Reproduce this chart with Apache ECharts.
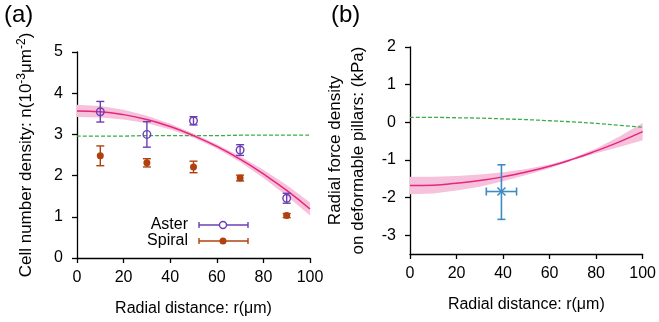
<!DOCTYPE html>
<html><head><meta charset="utf-8">
<script src="https://cdn.jsdelivr.net/npm/echarts@6/dist/echarts.min.js"></script>
<style>html,body{margin:0;padding:0;background:#fff}#c{width:659px;height:322px}</style>
</head><body><div id="c"></div>
<script>
// ---- Panel (a) data ----
const radii = [10, 30, 50, 70, 90];
const asterMean = [3.55, 3.00, 3.33, 2.62, 1.45];
const asterErr = [0.25, 0.31, 0.10, 0.13, 0.12];
const spiralMean = [2.48, 2.31, 2.21, 1.94, 1.03];
const spiralErr = [0.24, 0.10, 0.14, 0.07, 0.05];
const fitR = [0, 10, 20, 30, 40, 50, 60, 70, 80, 90, 100];
const fitA = [3.57, 3.55, 3.48, 3.36, 3.19, 2.97, 2.71, 2.40, 2.04, 1.64, 1.19];
const fitAUpper = [3.72, 3.69, 3.60, 3.45, 3.26, 3.02, 2.76, 2.47, 2.14, 1.77, 1.35];
const fitALower = [3.42, 3.41, 3.36, 3.27, 3.12, 2.92, 2.66, 2.33, 1.94, 1.51, 1.03];
const flatA = [2.96, 2.96, 2.96, 2.97, 2.97, 2.97, 2.97, 2.98, 2.98, 2.98, 2.98];
// ---- Panel (b) data ----
const fitB = [-1.68, -1.67, -1.62, -1.55, -1.45, -1.32, -1.17, -0.98, -0.76, -0.52, -0.25];
const fitBUpper = [-1.45, -1.45, -1.43, -1.39, -1.33, -1.24, -1.12, -0.95, -0.70, -0.38, -0.02];
const fitBLower = [-1.91, -1.89, -1.81, -1.71, -1.57, -1.40, -1.22, -1.01, -0.82, -0.66, -0.48];
const flatB = [0.13, 0.13, 0.12, 0.11, 0.09, 0.07, 0.04, 0.01, -0.03, -0.08, -0.13];
const forceR = [39.3];
const forceRErr = [6.5];
const forceVal = [-1.84];
const forceErrUp = [0.71];
const forceErrDown = [0.74];
// ---- ticks ----
const xTicks = [0, 20, 40, 60, 80, 100];
const yTicksA = [0, 1, 2, 3, 4, 5];
const yTicksB = [-3, -2, -1, 0, 1, 2];

const FONT = "'Liberation Sans', Arial, Helvetica, sans-serif";
const C_ASTER = '#6a3fb6', C_SPIRAL = '#b0410f', C_FIT = '#e8247c', C_BAND = '#f6c2db', C_FLAT = '#3aad4a', C_FORCE = '#3f8bc5';

function errRender(color, hollow) {
  return function (params, api) {
    const x = api.value(0), y = api.value(1), e = api.value(2);
    const p = api.coord([x, y]), pt = api.coord([x, y + e]), pb = api.coord([x, y - e]);
    const cw = 4, lw = 1.4;
    return {
      type: 'group', children: [
        {type: 'line', shape: {x1: pt[0], y1: pt[1], x2: pb[0], y2: pb[1]}, style: {stroke: color, lineWidth: lw}},
        {type: 'line', shape: {x1: pt[0] - cw, y1: pt[1], x2: pt[0] + cw, y2: pt[1]}, style: {stroke: color, lineWidth: lw}},
        {type: 'line', shape: {x1: pb[0] - cw, y1: pb[1], x2: pb[0] + cw, y2: pb[1]}, style: {stroke: color, lineWidth: lw}},
        {type: 'circle', shape: {cx: p[0], cy: p[1], r: hollow ? 3.8 : 3.5},
          style: hollow ? {fill: 'none', stroke: color, lineWidth: lw} : {fill: color}}
      ]
    };
  };
}
function forceRender(params, api) {
  const x = api.value(0), y = api.value(1), ex = api.value(2), eu = api.value(3), ed = api.value(4);
  const p = api.coord([x, y]);
  const pt = api.coord([x, y + eu]), pb = api.coord([x, y - ed]);
  const pl = api.coord([x - ex, y]), pr = api.coord([x + ex, y]);
  const cw = 4, lw = 1.6, s = 4;
  const st = {stroke: C_FORCE, lineWidth: lw};
  return {type: 'group', children: [
    {type: 'line', shape: {x1: pt[0], y1: pt[1], x2: pb[0], y2: pb[1]}, style: st},
    {type: 'line', shape: {x1: pt[0] - cw, y1: pt[1], x2: pt[0] + cw, y2: pt[1]}, style: st},
    {type: 'line', shape: {x1: pb[0] - cw, y1: pb[1], x2: pb[0] + cw, y2: pb[1]}, style: st},
    {type: 'line', shape: {x1: pl[0], y1: pl[1], x2: pr[0], y2: pr[1]}, style: st},
    {type: 'line', shape: {x1: pl[0], y1: pl[1] - cw, x2: pl[0], y2: pl[1] + cw}, style: st},
    {type: 'line', shape: {x1: pr[0], y1: pr[1] - cw, x2: pr[0], y2: pr[1] + cw}, style: st},
    {type: 'line', shape: {x1: p[0] - s, y1: p[1] - s, x2: p[0] + s, y2: p[1] + s}, style: st},
    {type: 'line', shape: {x1: p[0] - s, y1: p[1] + s, x2: p[0] + s, y2: p[1] - s}, style: st}
  ]};
}
// confidence band: one polygon built from the band arrays through the axis scales
function bandRender(rs, lo, hi) {
  return function (params, api) {
    if (params.dataIndex !== 0) return null;
    const top = rs.map((r, i) => api.coord([r, hi[i]]));
    const bot = rs.map((r, i) => api.coord([r, lo[i]])).reverse();
    return {type: 'polygon', shape: {points: top.concat(bot)}, style: {fill: C_BAND}, silent: true};
  };
}

const axisLineStyle = {show: true, onZero: false, lineStyle: {color: '#000', width: 1.3}};
const axisTick = {show: true, inside: false, length: 5, lineStyle: {color: '#000', width: 1.3}};
const labelStyle = {color: '#000', fontSize: 16, fontFamily: FONT};
const nameStyle = {color: '#000', fontSize: 16, fontFamily: FONT};
const yNameStyle = {color: '#000', fontSize: 17, fontFamily: FONT};

function xAxisCfg(gi) {
  return {
    type: 'value', gridIndex: gi, min: 0, max: 100, interval: 20,
    axisLine: axisLineStyle, axisTick: axisTick, splitLine: {show: false},
    axisLabel: Object.assign({margin: 12}, labelStyle),
    name: 'Radial distance: r(μm)', nameLocation: 'middle', nameGap: 43, nameTextStyle: nameStyle
  };
}

const pairs = (xs, ys) => xs.map((x, i) => [x, ys[i]]);

const option = {
  animation: false,
  backgroundColor: '#fff',
  textStyle: {fontFamily: FONT},
  grid: [
    {left: 77, right: 349, top: 52, bottom: 63},
    {left: 410, right: 16, top: 47, bottom: 68}
  ],
  xAxis: [xAxisCfg(0), xAxisCfg(1)],
  yAxis: [
    {
      type: 'value', gridIndex: 0, min: 0, max: 5, interval: 1,
      axisLine: axisLineStyle, axisTick: axisTick, splitLine: {show: false},
      axisLabel: Object.assign({margin: 14}, labelStyle),
      name: 'Cell number density: n(10{s|-3}μm{s|-2})', nameLocation: 'middle', nameGap: 41,
      nameTextStyle: Object.assign({rich: {
        s: {fontSize: 12, fontFamily: FONT, color: '#000', verticalAlign: 'bottom', padding: [0, 0, 8, 0]}
      }}, yNameStyle)
    },
    {
      type: 'value', gridIndex: 1, min: -3.5, max: 2,
      axisLine: axisLineStyle,
      axisTick: Object.assign({customValues: yTicksB}, axisTick),
      splitLine: {show: false},
      axisLabel: Object.assign({margin: 14, customValues: yTicksB}, labelStyle),
      name: 'Radial force density\non deformable pillars: (kPa)', nameLocation: 'middle', nameGap: 40,
      nameTextStyle: Object.assign({lineHeight: 23}, yNameStyle)
    }
  ],
  series: [
    // panel (a)
    {type: 'custom', xAxisIndex: 0, yAxisIndex: 0, renderItem: bandRender(fitR, fitALower, fitAUpper),
      data: fitR.map((r, i) => [r, fitALower[i], fitAUpper[i]]), encode: {x: 0, y: [1, 2]}, z: 1, silent: true},
    {type: 'line', xAxisIndex: 0, yAxisIndex: 0, data: pairs(fitR, flatA), smooth: true, symbol: 'none',
      lineStyle: {color: C_FLAT, width: 1.3, type: [4, 2]}, z: 2},
    {type: 'line', xAxisIndex: 0, yAxisIndex: 0, data: pairs(fitR, fitA), smooth: true, symbol: 'none',
      lineStyle: {color: C_FIT, width: 1.5}, z: 3},
    {type: 'custom', xAxisIndex: 0, yAxisIndex: 0, renderItem: errRender(C_ASTER, true),
      data: radii.map((r, i) => [r, asterMean[i], asterErr[i]]), encode: {x: 0, y: 1}, z: 5},
    {type: 'custom', xAxisIndex: 0, yAxisIndex: 0, renderItem: errRender(C_SPIRAL, false),
      data: radii.map((r, i) => [r, spiralMean[i], spiralErr[i]]), encode: {x: 0, y: 1}, z: 5},
    // panel (b)
    {type: 'custom', xAxisIndex: 1, yAxisIndex: 1, renderItem: bandRender(fitR, fitBLower, fitBUpper),
      data: fitR.map((r, i) => [r, fitBLower[i], fitBUpper[i]]), encode: {x: 0, y: [1, 2]}, z: 1, silent: true},
    {type: 'line', xAxisIndex: 1, yAxisIndex: 1, data: pairs(fitR, flatB), smooth: true, symbol: 'none',
      lineStyle: {color: C_FLAT, width: 1.3, type: [4, 2]}, z: 2},
    {type: 'line', xAxisIndex: 1, yAxisIndex: 1, data: pairs(fitR, fitB), smooth: true, symbol: 'none',
      lineStyle: {color: C_FIT, width: 1.5}, z: 3},
    {type: 'custom', xAxisIndex: 1, yAxisIndex: 1, renderItem: forceRender,
      data: forceR.map((r, i) => [r, forceVal[i], forceRErr[i], forceErrUp[i], forceErrDown[i]]), encode: {x: 0, y: 1}, z: 5}
  ],
  graphic: [
    {type: 'text', left: 4, top: 3, style: {text: '(a)', fontSize: 24, fontFamily: FONT, fill: '#000'}},
    {type: 'text', left: 331, top: 3, style: {text: '(b)', fontSize: 24, fontFamily: FONT, fill: '#000'}},
    // legend
    {type: 'group', children: [
      {type: 'text', x: 188, y: 225, style: {text: 'Aster', fontSize: 16, fontFamily: FONT, fill: '#000', align: 'right', verticalAlign: 'middle'}},
      {type: 'line', shape: {x1: 199, y1: 225, x2: 248, y2: 225}, style: {stroke: C_ASTER, lineWidth: 1.4}},
      {type: 'line', shape: {x1: 199, y1: 222, x2: 199, y2: 228}, style: {stroke: C_ASTER, lineWidth: 1.4}},
      {type: 'line', shape: {x1: 248, y1: 222, x2: 248, y2: 228}, style: {stroke: C_ASTER, lineWidth: 1.4}},
      {type: 'circle', shape: {cx: 223, cy: 225, r: 3.5}, style: {fill: '#fff', stroke: C_ASTER, lineWidth: 1.4}},
      {type: 'text', x: 188, y: 241, style: {text: 'Spiral', fontSize: 16, fontFamily: FONT, fill: '#000', align: 'right', verticalAlign: 'middle'}},
      {type: 'line', shape: {x1: 199, y1: 241, x2: 248, y2: 241}, style: {stroke: C_SPIRAL, lineWidth: 1.4}},
      {type: 'line', shape: {x1: 199, y1: 238, x2: 199, y2: 244}, style: {stroke: C_SPIRAL, lineWidth: 1.4}},
      {type: 'line', shape: {x1: 248, y1: 238, x2: 248, y2: 244}, style: {stroke: C_SPIRAL, lineWidth: 1.4}},
      {type: 'circle', shape: {cx: 223, cy: 241, r: 3.5}, style: {fill: C_SPIRAL}}
    ]}
  ]
};
echarts.init(document.getElementById('c'), null, {renderer: 'canvas'}).setOption(option);
</script></body></html>
